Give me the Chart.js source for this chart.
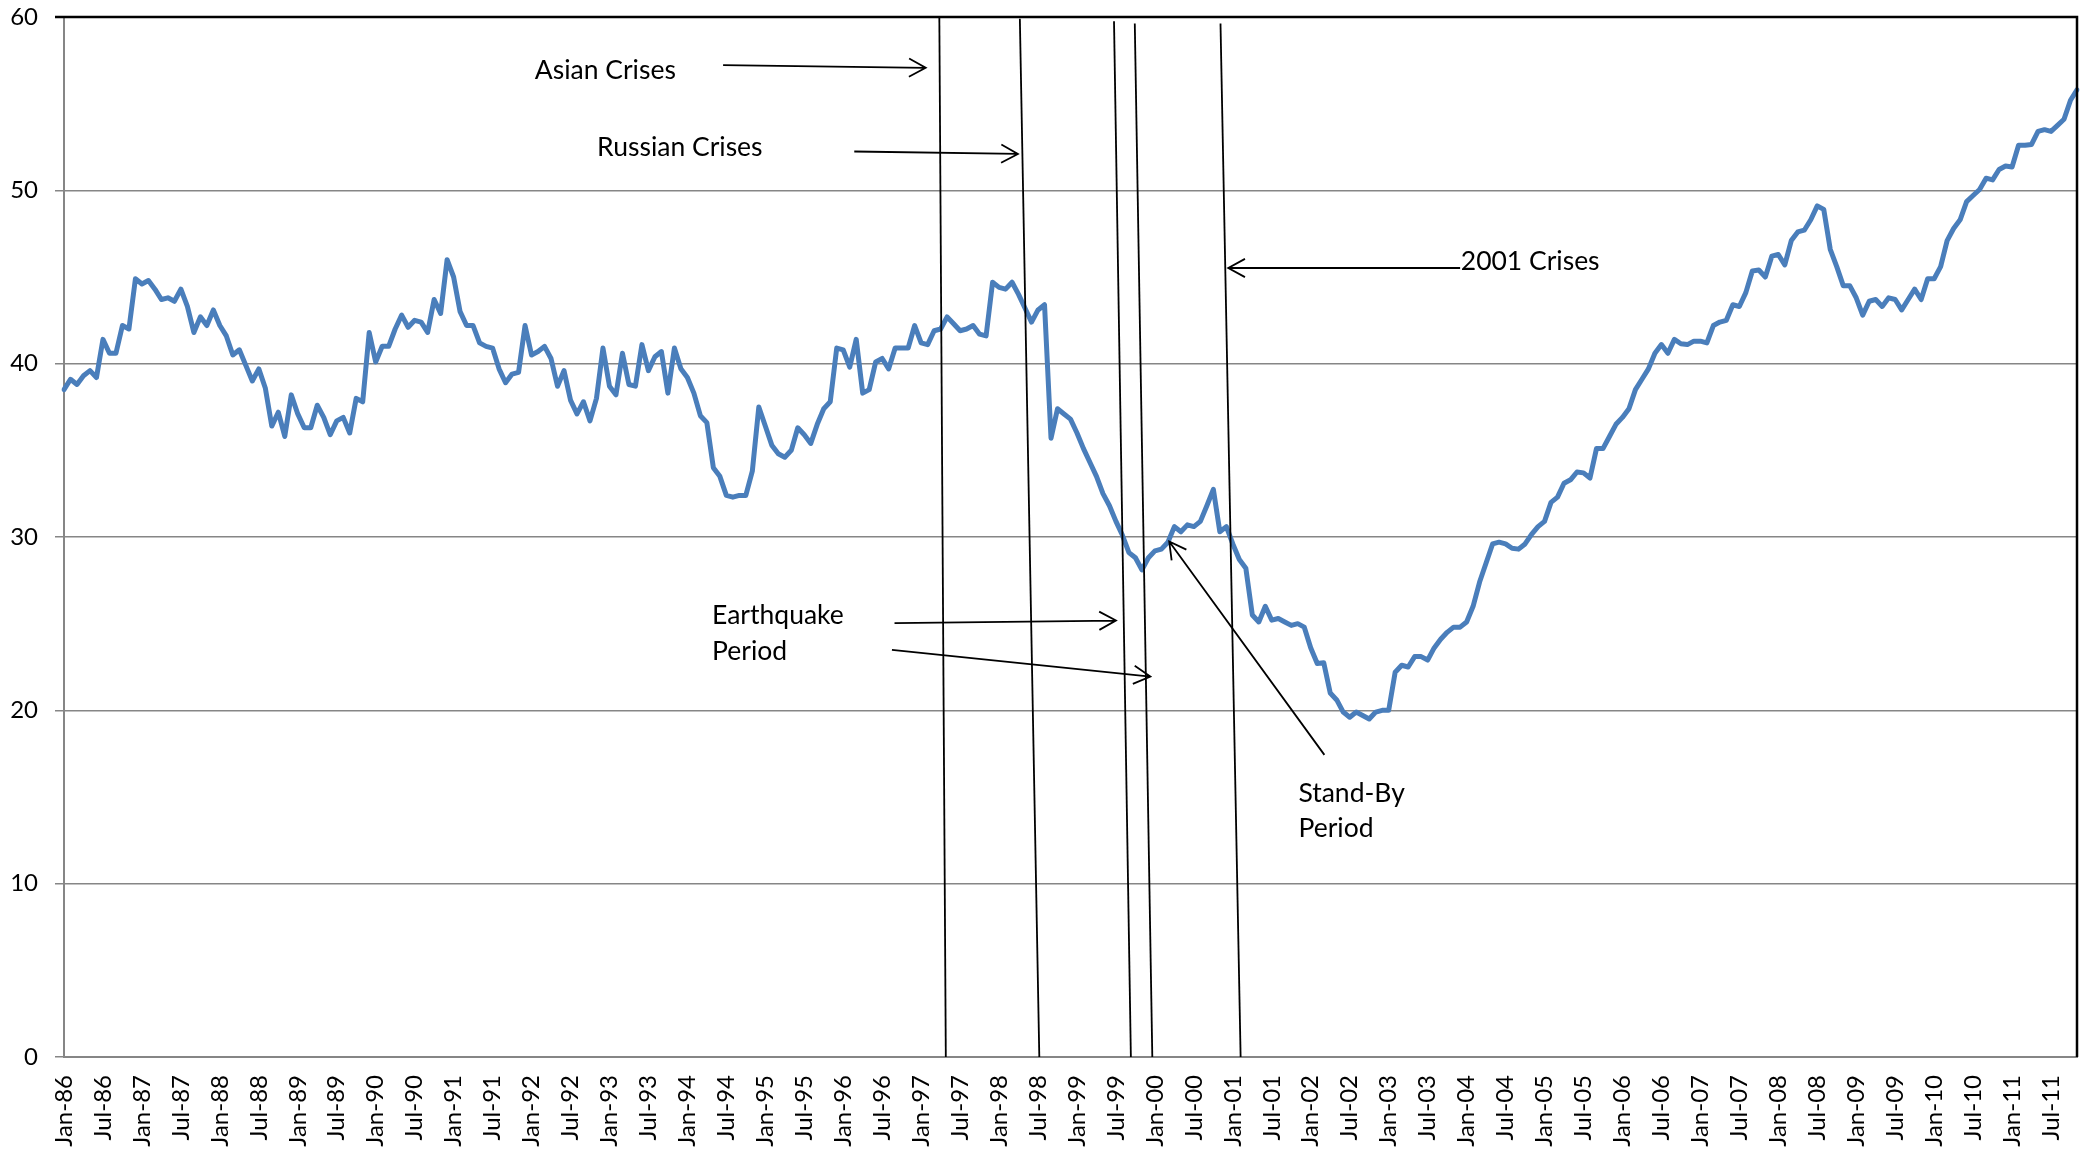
<!DOCTYPE html>
<html>
<head>
<meta charset="utf-8">
<title>Index 1986-2011</title>
<script src="https://cdn.jsdelivr.net/npm/chart.js@4.4.1/dist/chart.umd.min.js"></script>
<style>
    html, body { margin: 0; padding: 0; background: #ffffff; }
    #wrap { position: relative; width: 2089px; height: 1151px; }
</style>
</head>
<body>
<div id="wrap"><canvas id="chart"></canvas></div>
<script>
// --- dados ---
const monthNames = ['Jan', 'Feb', 'Mar', 'Apr', 'May', 'Jun', 'Jul', 'Aug', 'Sep', 'Oct', 'Nov', 'Dec'];
const firstYear = 1986;

// valores mensais, Jan-86 .. Nov-11 (uma linha por ano)
const indexValues = [
    38.5, 39.1, 38.8, 39.3, 39.6, 39.2, 41.4, 40.6, 40.6, 42.2, 42.0, 44.9,
    44.6, 44.8, 44.3, 43.7, 43.8, 43.6, 44.3, 43.3, 41.8, 42.7, 42.2, 43.1,
    42.2, 41.6, 40.5, 40.8, 39.9, 39.0, 39.7, 38.6, 36.4, 37.2, 35.8, 38.2,
    37.1, 36.3, 36.3, 37.6, 36.9, 35.9, 36.7, 36.9, 36.0, 38.0, 37.8, 41.8,
    40.1, 41.0, 41.0, 42.0, 42.8, 42.1, 42.5, 42.4, 41.8, 43.7, 42.9, 46.0,
    45.0, 43.0, 42.2, 42.2, 41.2, 41.0, 40.9, 39.7, 38.9, 39.4, 39.5, 42.2,
    40.5, 40.7, 41.0, 40.3, 38.7, 39.6, 37.9, 37.1, 37.8, 36.7, 38.0, 40.9,
    38.7, 38.2, 40.6, 38.8, 38.7, 41.1, 39.6, 40.4, 40.7, 38.3, 40.9, 39.7,
    39.2, 38.3, 37.0, 36.6, 34.0, 33.5, 32.4, 32.3, 32.4, 32.4, 33.8, 37.5,
    36.4, 35.3, 34.8, 34.6, 35.0, 36.3, 35.9, 35.4, 36.5, 37.4, 37.8, 40.9,
    40.8, 39.8, 41.4, 38.3, 38.5, 40.1, 40.3, 39.7, 40.9, 40.9, 40.9, 42.2,
    41.2, 41.1, 41.9, 42.0, 42.7, 42.3, 41.9, 42.0, 42.2, 41.7, 41.6, 44.7,
    44.4, 44.3, 44.7, 44.0, 43.2, 42.4, 43.1, 43.4, 35.7, 37.4, 37.1, 36.8,
    36.0, 35.1, 34.3, 33.5, 32.5, 31.8, 30.9, 30.1, 29.1, 28.8, 28.1, 28.8,
    29.2, 29.3, 29.7, 30.6, 30.3, 30.7, 30.6, 30.9, 31.8, 32.75, 30.3, 30.6,
    29.6, 28.7, 28.2, 25.5, 25.1, 26.0, 25.2, 25.3, 25.1, 24.9, 25.0, 24.8,
    23.6, 22.7, 22.75, 21.0, 20.6, 19.9, 19.6, 19.9, 19.7, 19.5, 19.9, 20.0,
    20.0, 22.2, 22.6, 22.5, 23.1, 23.1, 22.9, 23.6, 24.1, 24.5, 24.8, 24.8,
    25.1, 26.0, 27.4, 28.5, 29.6, 29.7, 29.6, 29.35, 29.3, 29.6, 30.15, 30.6,
    30.9, 32.0, 32.3, 33.1, 33.3, 33.75, 33.7, 33.4, 35.1, 35.1, 35.8, 36.5,
    36.9, 37.4, 38.5, 39.1, 39.7, 40.6, 41.1, 40.6, 41.4, 41.15, 41.1, 41.3,
    41.3, 41.2, 42.2, 42.4, 42.5, 43.4, 43.3, 44.1, 45.35, 45.4, 45.0, 46.2,
    46.3, 45.7, 47.1, 47.6, 47.7, 48.3, 49.1, 48.9, 46.6, 45.6, 44.5, 44.5,
    43.8, 42.8, 43.6, 43.7, 43.3, 43.8, 43.7, 43.1, 43.7, 44.3, 43.7, 44.9,
    44.9, 45.6, 47.1, 47.8, 48.3, 49.35, 49.7, 50.05, 50.7, 50.6, 51.2, 51.4,
    51.35, 52.6, 52.6, 52.65, 53.4, 53.5, 53.4, 53.75, 54.1, 55.2, 55.8
];

const yTickValues = [0, 10, 20, 30, 40, 50, 60];
const labelEvery = 6; // Jan e Jul

// anotações em unidades do gráfico: [mês inicial, valor, mês final, valor]
const crisisLines = [
    [134.8, 60.05, 135.8, 0],
    [147.2, 59.9, 150.2, 0],
    [161.7, 59.76, 164.3, 0],
    [164.9, 59.62, 167.6, 0],
    [178.1, 59.62, 181.2, 0]
];
const arrowLines = [
    [101.5, 57.22, 132.7, 57.07],
    [121.7, 52.24, 146.9, 52.10],
    [215.0, 45.52, 179.3, 45.52],
    [127.9, 25.03, 162.0, 25.18],
    [127.5, 23.49, 167.3, 21.95],
    [194.1, 17.43, 170.2, 29.74]
];
const noteTexts = ['Asian Crises', 'Russian Crises', '2001 Crises', 'Earthquake', 'Period', 'Stand-By', 'Period'];
const noteMonths = [72.5, 82.1, 215.1, 99.8, 99.8, 190.1, 190.1];
const noteValues = [56.45, 51.97, 45.39, 24.99, 22.91, 14.74, 12.72];

// categorias Jan-86, Feb-86, ...
const categories = indexValues.map((v, i) => {
    const yy = String((firstYear + Math.floor(i / 12)) % 100).padStart(2, '0');
    return monthNames[i % 12] + '-' + yy;
});

const FONT = "Lato, 'DejaVu Sans', sans-serif";

// --- plugin: moldura preta + linhas, setas e textos ---
const annotationPlugin = {
    id: 'crisisNotes',
    afterDatasetsDraw(chart) {
        const ctx = chart.ctx;
        const xs = chart.scales.x;
        const ys = chart.scales.y;
        const area = chart.chartArea;

        ctx.save();
        // moldura superior e direita
        ctx.strokeStyle = '#000000';
        ctx.lineWidth = 2.5;
        ctx.beginPath();
        ctx.moveTo(area.left - 9, area.top);
        ctx.lineTo(area.right, area.top);
        ctx.lineTo(area.right, area.bottom);
        ctx.stroke();

        // linhas verticais dos períodos
        ctx.lineWidth = 1.8;
        crisisLines.forEach(l => {
            ctx.beginPath();
            ctx.moveTo(xs.getPixelForValue(l[0]), ys.getPixelForValue(l[1]));
            ctx.lineTo(xs.getPixelForValue(l[2]), ys.getPixelForValue(l[3]));
            ctx.stroke();
        });

        // setas
        arrowLines.forEach(a => {
            const x1 = xs.getPixelForValue(a[0]), y1 = ys.getPixelForValue(a[1]);
            const x2 = xs.getPixelForValue(a[2]), y2 = ys.getPixelForValue(a[3]);
            const ang = Math.atan2(y2 - y1, x2 - x1);
            const len = 19, spread = 0.5;
            ctx.beginPath();
            ctx.moveTo(x1, y1);
            ctx.lineTo(x2, y2);
            ctx.moveTo(x2 - len * Math.cos(ang - spread), y2 - len * Math.sin(ang - spread));
            ctx.lineTo(x2, y2);
            ctx.lineTo(x2 - len * Math.cos(ang + spread), y2 - len * Math.sin(ang + spread));
            ctx.stroke();
        });

        // textos
        ctx.fillStyle = '#000000';
        ctx.font = '26.5px ' + FONT;
        ctx.textAlign = 'left';
        ctx.textBaseline = 'alphabetic';
        noteTexts.forEach((t, i) => {
            ctx.fillText(t, xs.getPixelForValue(noteMonths[i]), ys.getPixelForValue(noteValues[i]));
        });
        ctx.restore();
    }
};

const ctx = document.getElementById('chart').getContext('2d');
new Chart(ctx, {
    type: 'line',
    data: {
        labels: categories,
        datasets: [{
            data: indexValues,
            borderColor: '#4a7ebb',
            borderWidth: 5,
            pointRadius: 0,
            pointHoverRadius: 0,
            tension: 0,
            borderJoinStyle: 'round',
            borderCapStyle: 'round',
            fill: false
        }]
    },
    options: {
        responsive: true,
        maintainAspectRatio: false,
        animation: false,
        devicePixelRatio: 1,
        layout: { padding: { top: 17, right: 12, left: 0, bottom: 0 } },
        plugins: {
            legend: { display: false },
            tooltip: { enabled: false }
        },
        scales: {
            x: {
                type: 'category',
                offset: false,
                grid: { display: false, drawTicks: false },
                border: { display: true, color: '#868686', width: 2 },
                ticks: {
                    autoSkip: false,
                    maxRotation: 90,
                    minRotation: 90,
                    padding: 18,
                    color: '#000000',
                    font: { family: FONT, size: 24 },
                    callback: function (val, idx) {
                        return idx % labelEvery === 0 ? this.getLabelForValue(val) : null;
                    }
                },
                afterFit: scale => {
                    scale.height = 94;
                    scale.paddingLeft = 0;
                    scale.paddingRight = 0;
                }
            },
            y: {
                min: 0,
                max: 60,
                afterBuildTicks: scale => { scale.ticks = yTickValues.map(v => ({ value: v })); },
                grid: {
                    color: '#868686',
                    lineWidth: 1.5,
                    drawTicks: true,
                    tickLength: 9
                },
                border: { display: true, color: '#868686', width: 2 },
                ticks: {
                    padding: 17,
                    color: '#000000',
                    font: { family: FONT, size: 24 }
                },
                afterFit: scale => {
                    scale.width = 64;
                    scale.paddingTop = 0;
                    scale.paddingBottom = 0;
                }
            }
        }
    },
    plugins: [annotationPlugin]
});
</script>
</body>
</html>
